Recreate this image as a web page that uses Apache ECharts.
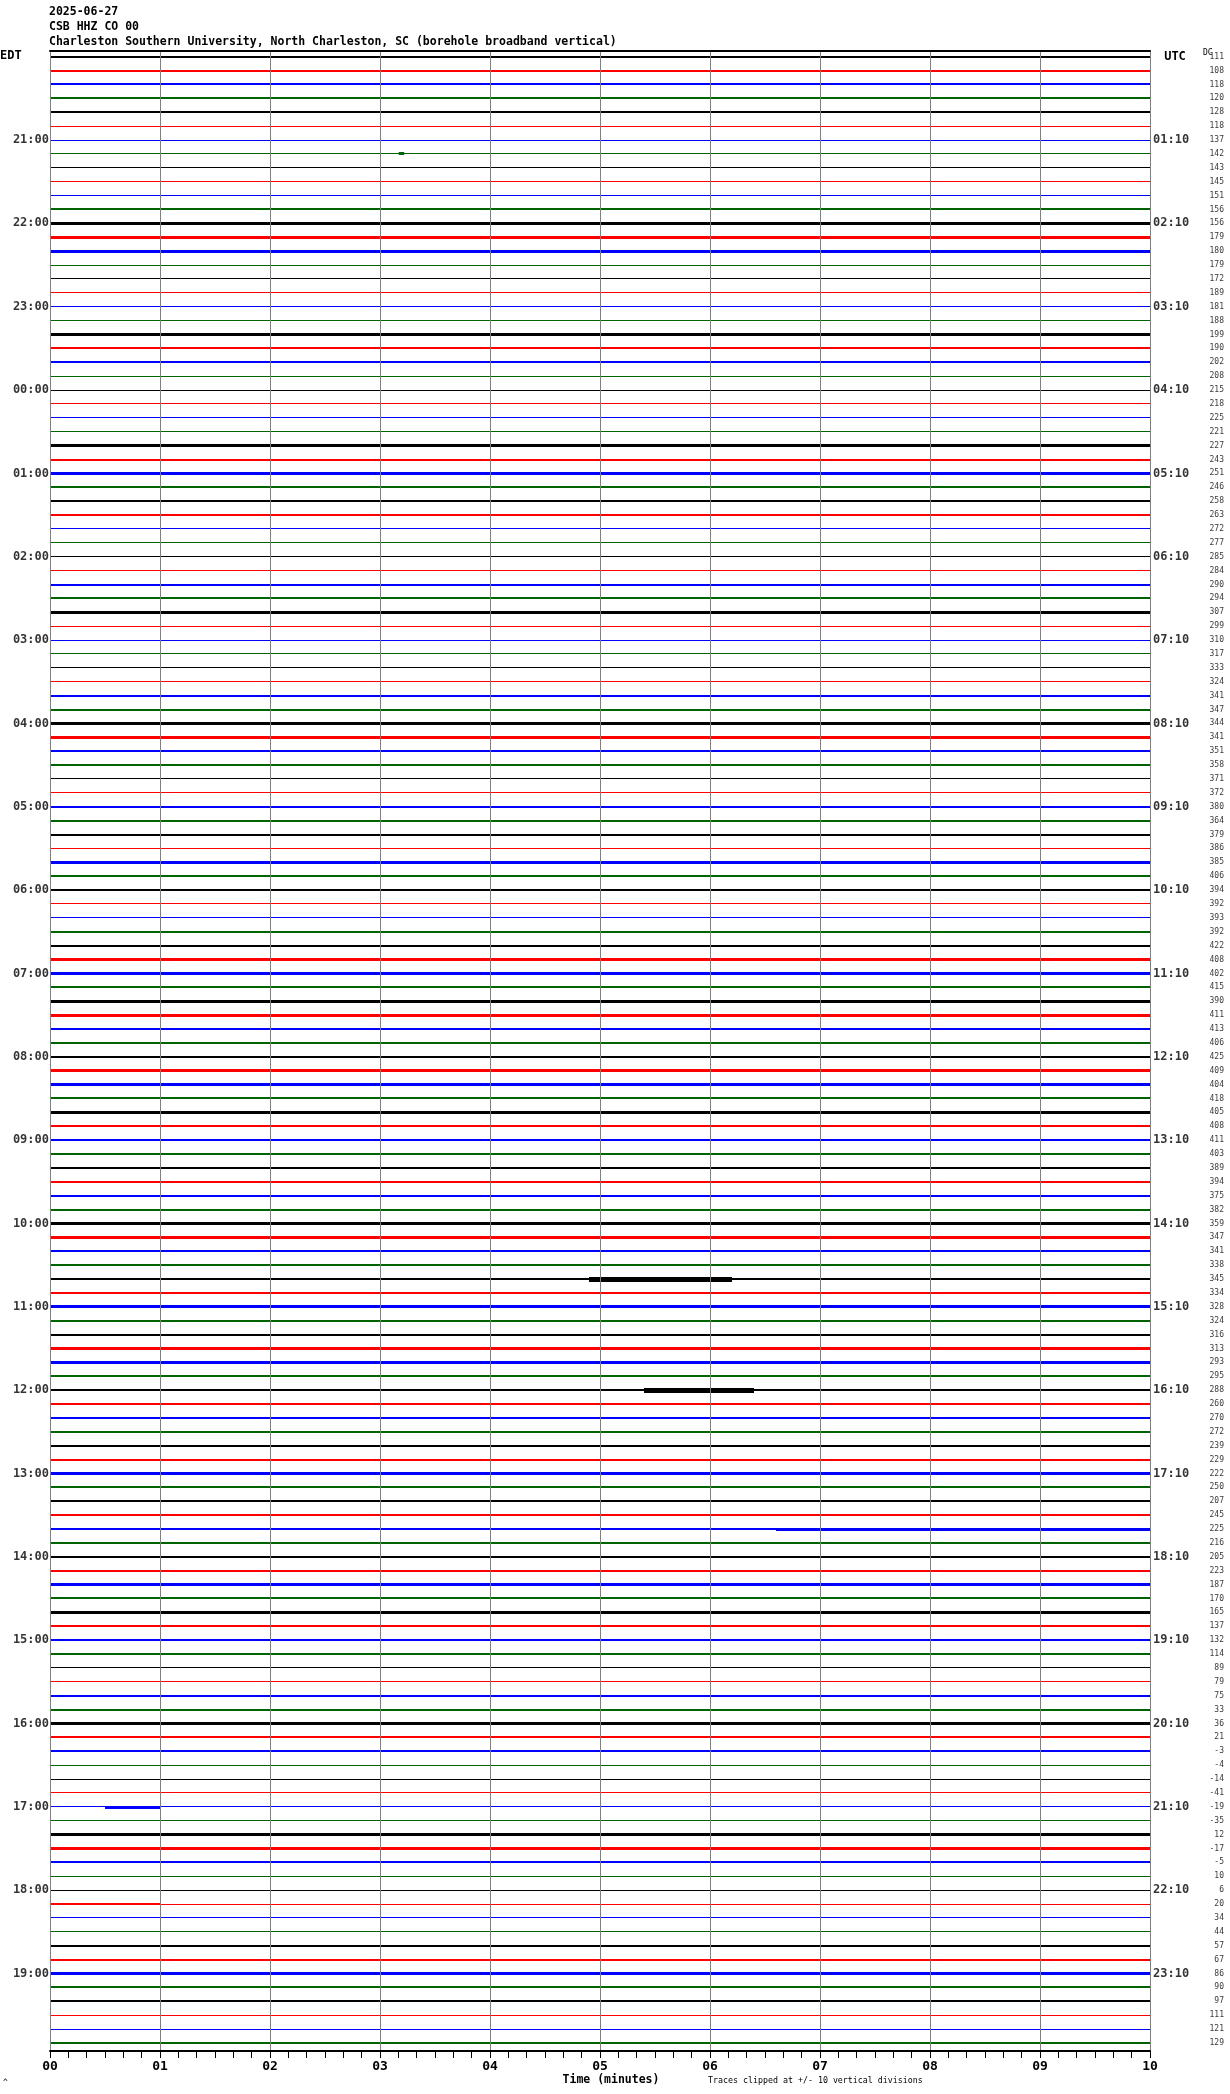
<!DOCTYPE html>
<html>
<head>
<meta charset="utf-8">
<script src="https://cdn.jsdelivr.net/npm/echarts@6/dist/echarts.min.js"></script>
<style>
html,body{margin:0;padding:0;background:#fff;}
#chart{width:1230px;height:2094px;}
</style>
</head>
<body>
<div id="chart"></div>
<script>
// ---- data ----
const rowCount = 144; // 10-minute rows, 20:00 EDT .. 19:50 EDT
const dcValues = [
  111,108,118,120,128,118,137,142,143,145,
  151,156,156,179,180,179,172,189,181,188,
  199,190,202,208,215,218,225,221,227,243,
  251,246,258,263,272,277,285,284,290,294,
  307,299,310,317,333,324,341,347,344,341,
  351,358,371,372,380,364,379,386,385,406,
  394,392,393,392,422,408,402,415,390,411,
  413,406,425,409,404,418,405,408,411,403,
  389,394,375,382,359,347,341,338,345,334,
  328,324,316,313,293,295,288,260,270,272,
  239,229,222,250,207,245,225,216,205,223,
  187,170,165,137,132,114,89,79,75,33,
  36,21,-3,-4,-14,-41,-19,-35,12,-17,
  -5,10,6,20,34,44,57,67,86,90,
  97,111,121,129
];
// background noise level of each row (1 quiet .. 3 noisy)
const noiseLevel = [
  2,2,2,2,2,1,  1,1,1,1,1,2,  3,3,3,1,1,1,  1,1,3,2,2,1,
  1,1,1,1,3,2,  3,2,2,2,1,1,  1,1,2,2,3,1,  1,1,1,1,2,2,
  3,3,2,2,1,1,  2,2,2,1,3,2,  2,1,1,2,2,3,  3,2,3,3,2,2,
  2,3,3,2,3,2,  2,2,2,2,2,2,  3,3,2,2,2,2,  3,2,2,3,3,2,
  2,2,2,2,2,2,  3,2,2,2,2,2,  2,2,3,2,3,2,  2,2,1,1,2,2,
  3,2,2,1,1,1,  1,1,3,3,2,1,  1,1,1,1,2,2,  3,2,2,1,1,2
];
// larger signal bursts: row, start minute, end minute, half amplitude (rows)
const eventRow   = [7,    88,   96,   106,  107,  126,  133];
const eventStart = [3.17, 4.9,  5.4,  6.6,  0.0,  0.5,  0.0];
const eventEnd   = [3.22, 6.2,  6.4,  10.0, 1.0,  1.0,  1.0];
const eventAmp   = [0.12, 0.17, 0.17, 0.09, 0.08, 0.09, 0.07];
const edtHourLabels = ['21:00','22:00','23:00','00:00','01:00','02:00','03:00','04:00','05:00','06:00','07:00','08:00','09:00','10:00','11:00','12:00','13:00','14:00','15:00','16:00','17:00','18:00','19:00'];
const utcHourLabels = ['01:10','02:10','03:10','04:10','05:10','06:10','07:10','08:10','09:10','10:10','11:10','12:10','13:10','14:10','15:10','16:10','17:10','18:10','19:10','20:10','21:10','22:10','23:10'];
const minuteLabels = ['00','01','02','03','04','05','06','07','08','09','10'];

// ---- chart ----
const traceColors = ['#000000','#ff0000','#0000ff','#006400'];
const MONO = '"DejaVu Sans Mono", "Liberation Mono", monospace';
const chart = echarts.init(document.getElementById('chart'), null, {renderer:'canvas'});

const traceData = noiseLevel.map((lvl, i) => [i, lvl]);
const eventData = eventRow.map((r, k) => [r, eventStart[k], eventEnd[k], eventAmp[k]]);
const hourRows = edtHourLabels.map((_, k) => 6 * (k + 1));

function renderTrace(params, api) {
  const row = api.value(0), lvl = api.value(1);
  const a = api.coord([0, row]), b = api.coord([10, row]);
  const h = lvl;
  const y = Math.round(a[1] - h / 2);
  return {type:'rect', shape:{x:a[0], y:y, width:b[0]-a[0], height:h},
          style:{fill: traceColors[row % 4]}};
}
function renderEvent(params, api) {
  const row = api.value(0), x0 = api.value(1), x1 = api.value(2), amp = api.value(3);
  const a = api.coord([x0, row - amp]), b = api.coord([x1, row + amp]);
  return {type:'rect', shape:{x:a[0], y:Math.round(a[1]), width:Math.max(2, b[0]-a[0]), height:Math.round(b[1]-a[1])},
          style:{fill: traceColors[row % 4]}};
}

const option = {
  animation: false,
  backgroundColor: '#ffffff',
  grid: {left: 50, right: 80, top: 51, bottom: 43, containLabel: false},
  xAxis: [{
    type: 'value', min: 0, max: 10, interval: 1, position: 'bottom', z: 5,
    axisLine: {show: true, onZero: false, lineStyle: {color: '#000', width: 2}},
    axisTick: {show: true, length: 7, lineStyle: {color: '#000', width: 1}},
    minorTick: {show: true, splitNumber: 6, length: 7, lineStyle: {color: '#000', width: 1}},
    splitLine: {show: true, lineStyle: {color: '#808080', width: 1}},
    axisLabel: {show: true, margin: 9, color: '#000', fontSize: 13, fontWeight: 'bold', fontFamily: MONO,
                formatter: v => minuteLabels[Math.round(v)]}
  }, {
    type: 'value', min: 0, max: 10, position: 'top', z: 5,
    axisLine: {show: true, onZero: false, lineStyle: {color: '#000', width: 2}},
    axisTick: {show: false}, axisLabel: {show: false}, splitLine: {show: false}
  }],
  yAxis: {
    type: 'value', inverse: true, min: -0.41, max: 143.58,
    axisLine: {show: false}, axisTick: {show: false}, axisLabel: {show: false}, splitLine: {show: false}
  },
  series: [
    {type: 'custom', name: 'traces', renderItem: renderTrace, data: traceData, silent: true,
     encode: {x: -1, y: 0}},
    {type: 'custom', name: 'events', renderItem: renderEvent, data: eventData, silent: true,
     encode: {x: 1, y: 0}},
    {type: 'scatter', name: 'edt', symbolSize: 0, silent: true,
     itemStyle: {color: 'rgba(0,0,0,0)'},
     data: hourRows.map(r => [0, r]),
     label: {show: true, position: 'left', distance: 1, color: '#000', fontSize: 12, fontWeight: 'bold', fontFamily: MONO,
             formatter: p => edtHourLabels[p.dataIndex]}},
    {type: 'scatter', name: 'utc', symbolSize: 0, silent: true,
     itemStyle: {color: 'rgba(0,0,0,0)'},
     data: hourRows.map(r => [10, r]),
     label: {show: true, position: 'right', distance: 3, color: '#000', fontSize: 12, fontWeight: 'bold', fontFamily: MONO,
             formatter: p => utcHourLabels[p.dataIndex]}},
    {type: 'scatter', name: 'dc', symbolSize: 0, silent: true,
     itemStyle: {color: 'rgba(0,0,0,0)'},
     data: dcValues.map((v, i) => [10, i]),
     label: {show: true, position: 'right', distance: 74, align: 'right', color: '#000', fontSize: 8, fontFamily: MONO,
             formatter: p => String(dcValues[p.dataIndex])}}
  ],
  graphic: [
    {type: 'text', x: 49, y: 12, style: {text: '2025-06-27', font: 'bold 11.5px ' + MONO, fill: '#000', verticalAlign: 'middle', textVerticalAlign: 'middle'}},
    {type: 'text', x: 49, y: 27, style: {text: 'CSB HHZ CO 00', font: 'bold 11.5px ' + MONO, fill: '#000', verticalAlign: 'middle', textVerticalAlign: 'middle'}},
    {type: 'text', x: 49, y: 42, style: {text: 'Charleston Southern University, North Charleston, SC (borehole broadband vertical)', font: 'bold 11.5px ' + MONO, fill: '#000', verticalAlign: 'middle', textVerticalAlign: 'middle'}},
    {type: 'text', x: 0, y: 56, style: {text: 'EDT', font: 'bold 12px ' + MONO, fill: '#000', verticalAlign: 'middle', textVerticalAlign: 'middle'}},
    {type: 'text', x: 1175, y: 57, style: {text: 'UTC', font: 'bold 12px ' + MONO, fill: '#000', align: 'center', textAlign: 'center', verticalAlign: 'middle', textVerticalAlign: 'middle'}},
    {type: 'text', x: 1203, y: 53, style: {text: 'DC', font: '8px ' + MONO, fill: '#000', verticalAlign: 'middle', textVerticalAlign: 'middle'}},
    {type: 'text', x: 611, y: 2080, style: {text: 'Time (minutes)', font: 'bold 11.5px ' + MONO, fill: '#000', align: 'center', textAlign: 'center', verticalAlign: 'middle', textVerticalAlign: 'middle'}},
    {type: 'text', x: 708, y: 2081, style: {text: 'Traces clipped at +/- 10 vertical divisions', font: '8.3px ' + MONO, fill: '#000', verticalAlign: 'middle', textVerticalAlign: 'middle'}},
    {type: 'text', x: 3, y: 2083, style: {text: '^', font: '8px ' + MONO, fill: '#000', verticalAlign: 'middle', textVerticalAlign: 'middle'}}
  ]
};
chart.setOption(option);
</script>
</body>
</html>
